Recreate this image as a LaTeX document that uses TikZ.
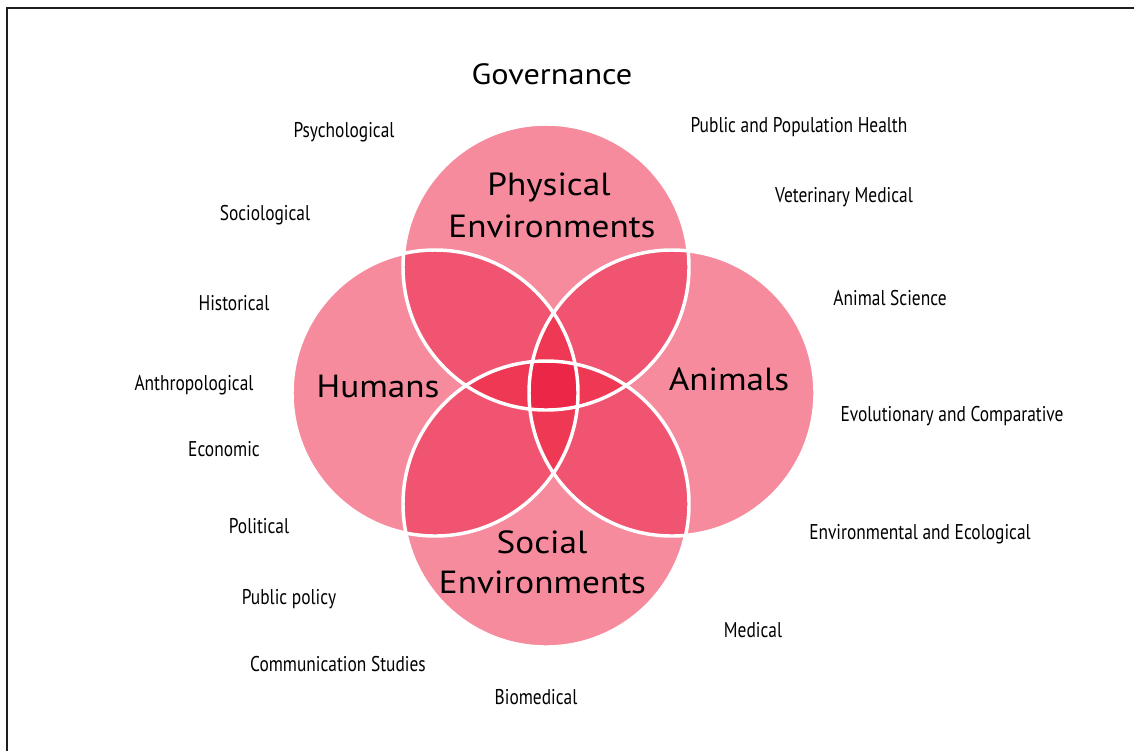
\documentclass[tikz,border=0pt]{standalone}
\usepackage{fontspec}
\setmainfont{PT Sans}
\newfontfamily\condfont[FakeStretch=0.815]{PT Sans}
\newfontfamily\widefont[FakeStretch=1.1]{PT Sans}
\definecolor{cone}{RGB}{246,139,157}
\definecolor{ctwo}{RGB}{240,84,112}
\definecolor{cthree}{RGB}{238,56,84}
\definecolor{cfour}{RGB}{236,38,70}
\definecolor{frame}{RGB}{30,30,30}
\begin{document}
\begin{tikzpicture}[x=0.75pt,y=-0.75pt,
  big/.style={font=\widefont\fontsize{24}{28}\selectfont, inner sep=0pt, anchor=base},
  title/.style={font=\widefont\fontsize{22}{26}\selectfont, inner sep=0pt, anchor=base},
  small/.style={font=\condfont\fontsize{16}{19}\selectfont, inner sep=0pt, anchor=base},
  ring/.style={draw=white, line width=2.6pt}]
\useasboundingbox (0,0) rectangle (1134,751);
\fill[white] (0,0) rectangle (1134,751);
\def\R{107.25pt}
\coordinate (cT) at (546,267);
\coordinate (cB) at (546,504);
\coordinate (cL) at (435,393);
\coordinate (cR) at (672,393);
% single circles
\foreach \c in {cT,cB,cL,cR} \fill[cone] (\c) circle[radius=\R];
% pairs
\foreach \a/\b in {cT/cL,cT/cR,cB/cL,cB/cR,cT/cB,cL/cR}{
  \begin{scope}
    \clip (\a) circle[radius=\R];
    \fill[ctwo] (\b) circle[radius=\R];
  \end{scope}}
% triples
\foreach \a/\b/\d in {cT/cB/cL,cT/cB/cR,cL/cR/cT,cL/cR/cB}{
  \begin{scope}
    \clip (\a) circle[radius=\R];
    \clip (\b) circle[radius=\R];
    \fill[cthree] (\d) circle[radius=\R];
  \end{scope}}
% quadruple
\begin{scope}
  \clip (cT) circle[radius=\R];
  \clip (cB) circle[radius=\R];
  \clip (cL) circle[radius=\R];
  \fill[cfour] (cR) circle[radius=\R];
\end{scope}
% outlines
\foreach \c in {cT,cB,cL,cR} \draw[ring] (\c) circle[radius=\R];
% frame
\draw[frame, line width=1.5pt] (7,751) -- (7,8) -- (1134,8);
% big labels
\node[title] (gov) at (552,84) {Governance};
\node[big] (phys1) at (549,195) {Physical};
\node[big] (phys2) at (552,237) {Environments};
\node[big] (hum) at (378,397) {Humans};
\node[big] (ani) at (729,390) {Animals};
\node[big] (soc1) at (542,553) {Social};
\node[big] (soc2) at (542.5,593) {Environments};
% small labels
\node[small] (psy) at (344,137) {Psychological};
\node[small] (socl) at (265,220) {Sociological};
\node[small] (his) at (234,310) {Historical};
\node[small] (ant) at (194,390) {Anthropological};
\node[small] (eco) at (224,456) {Economic};
\node[small] (pol) at (259,533) {Political};
\node[small] (pub) at (289,604) {Public policy};
\node[small] (com) at (338,671) {Communication Studies};
\node[small] (bio) at (536,704) {Biomedical};
\node[small] (med) at (753,637) {Medical};
\node[small] (env) at (920,539) {Environmental and Ecological};
\node[small] (evo) at (952,421) {Evolutionary and Comparative};
\node[small] (ansc) at (890,305) {Animal Science};
\node[small] (vet) at (844,202) {Veterinary Medical};
\node[small] (pph) at (799,132) {Public and Population Health};
\end{tikzpicture}
\end{document}
